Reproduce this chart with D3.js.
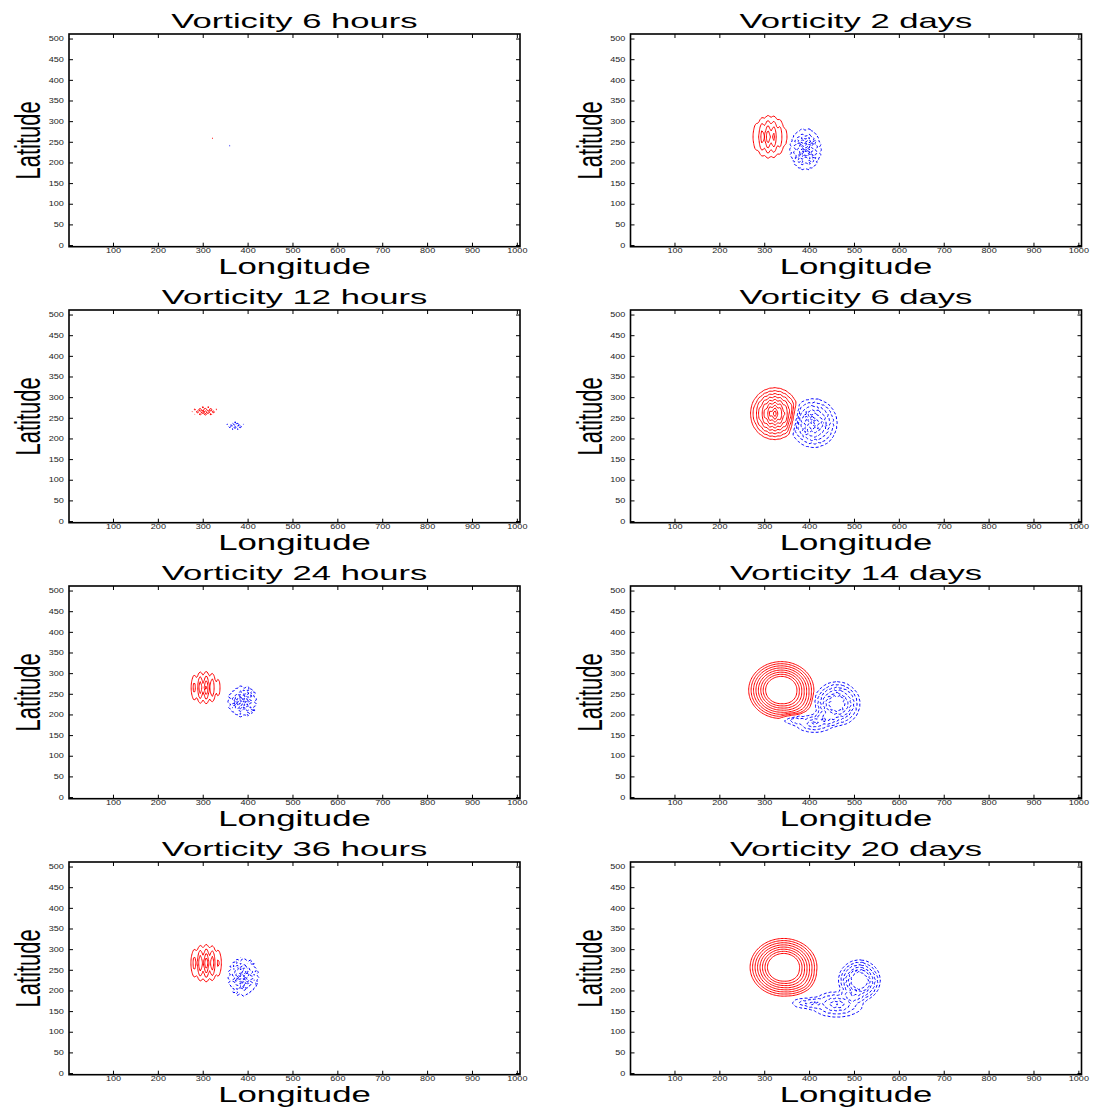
<!DOCTYPE html>
<html>
<head>
<meta charset="utf-8">
<script src="https://cdn.jsdelivr.net/npm/d3@7"></script>
<style>
  body { margin: 0; background: #fff; }
  text { font-family: "Liberation Sans", Arial, sans-serif; }
</style>
</head>
<body>
<svg id="fig" width="1095" height="1120"></svg>
<script>
// panel titles, row by row (left, right)
var titles = ["Vorticity 6 hours", "Vorticity 2 days",
              "Vorticity 12 hours", "Vorticity 6 days",
              "Vorticity 24 hours", "Vorticity 14 days",
              "Vorticity 36 hours", "Vorticity 20 days"];
var xTicks = [100, 200, 300, 400, 500, 600, 700, 800, 900, 1000];
var yTicks = [0, 50, 100, 150, 200, 250, 300, 350, 400, 450, 500];
var levels = [1, 2, 3, 4, 5, 6, 7, 8, 9, 10];

// vortex blobs: [lon, lat, spreadLon, spreadLat, peak, flatCore]
var redVortices = [
  [[321, 258, 9, 5, 1.2, 0], [335, 254, 9, 5, 1.3, 0]],
  [[312, 262, 48, 64, 4.6, 0]],
  [[305, 266, 50, 20, 1.3, 0]],
  [[323, 260, 60, 70, 9.5, 0]],
  [[304, 265, 46, 50, 3.6, 0]],
  [[338, 259, 78, 74, 8.4, 0.42], [388, 214, 50, 42, 1.1, 0]],
  [[307, 266, 48, 56, 4.2, 0]],
  [[343, 256, 80, 75, 8.4, 0.42], [392, 210, 50, 42, 1.1, 0]]
];
var blueVortices = [
  [[360, 241, 8, 5, 1.2, 0]],
  [[392, 232, 44, 62, 4.6, 0]],
  [[372, 231, 32, 16, 1.4, 0]],
  [[410, 237, 60, 68, 7.5, 0]],
  [[388, 232, 44, 50, 3.4, 0]],
  [[462, 226, 58, 60, 6.5, 0.25], [412, 180, 55, 30, 4.5, 0], [362, 188, 30, 18, 2.5, 0]],
  [[390, 232, 44, 60, 3.8, 0]],
  [[512, 224, 52, 56, 6.5, 0.3], [462, 166, 72, 38, 5, 0], [392, 170, 42, 20, 3, 0]]
];
// grid-scale noise seen in the early fields: [strength, wavelengthLon, wavelengthLat]
var rippleRed = [[0, 1, 0], [0.15, 14, 0], [1, 12, 12], [0.05, 12, 0],
                 [0.3, 14, 0], [0, 1, 0], [0.25, 14, 0], [0, 1, 0]];
var rippleBlue = [[0, 1, 0], [0.25, 16, 14], [1, 12, 12], [0.1, 14, 14],
                  [0.4, 16, 14], [0.08, 14, 14], [0.35, 16, 14], [0.08, 14, 14]];

var svg = d3.select("#fig");
var colLeft = [69, 630.5];
var rowTop = [34, 310, 586, 862];
var pw = 451, ph = 212.7;

// grid the field is sampled on
var g0 = [200, 80], gStep = 3;
var gn = Math.round((650 - g0[0]) / gStep), gm = Math.round((420 - g0[1]) / gStep);

function blobSum(list, lon, lat) {
  var v = 0;
  list.forEach(function(c) {
    var dx = (lon - c[0]) / c[2], dy = (lat - c[1]) / c[3];
    var r = Math.sqrt(dx * dx + dy * dy);
    v += c[4] * Math.max(0, Math.min(1, (1 - r) / (1 - c[5])));
  });
  return v;
}

function rippleAt(rp, lon, lat) {
  if (rp[0] == 0) return 1;
  var w = Math.cos(2 * Math.PI * lon / rp[1]);
  if (rp[2] > 0) w = w * Math.cos(2 * Math.PI * lat / rp[2]);
  return Math.max(0, 1 + rp[0] * w);
}

function drawPanel(k) {
  var L = colLeft[k % 2], T = rowTop[Math.floor(k / 2)];
  var x = d3.scaleLinear().domain([2, 1007]).range([L, L + pw]);
  var y = d3.scaleLinear().domain([-4, 511]).range([T + ph, T]);
  var g = svg.append("g");

  // field values
  var pos = new Array(gn * gm), neg = new Array(gn * gm);
  for (var j = 0; j < gm; j++) {
    for (var i = 0; i < gn; i++) {
      var lon = g0[0] + (i + 0.5) * gStep, lat = g0[1] + (j + 0.5) * gStep;
      var v = blobSum(redVortices[k], lon, lat) * rippleAt(rippleRed[k], lon, lat)
            - blobSum(blueVortices[k], lon, lat) * rippleAt(rippleBlue[k], lon, lat);
      pos[j * gn + i] = v;
      neg[j * gn + i] = -v;
    }
  }
  var proj = d3.geoTransform({
    point: function(px, py) {
      this.stream.point(x(g0[0] + px * gStep), y(g0[1] + py * gStep));
    }
  });
  var path = d3.geoPath(proj);
  var cont = d3.contours().size([gn, gm]).thresholds(levels);

  g.selectAll("path.pos").data(cont(pos)).enter().append("path")
    .attr("class", "pos")
    .attr("d", path)
    .attr("fill", "none")
    .attr("stroke", "#ff0000")
    .attr("stroke-width", 1);
  g.selectAll("path.neg").data(cont(neg)).enter().append("path")
    .attr("class", "neg")
    .attr("d", path)
    .attr("fill", "none")
    .attr("stroke", "#0000ff")
    .attr("stroke-width", 1)
    .attr("stroke-dasharray", "3,2");

  // axes, ticks pointing inwards on all four sides
  var bottom = g.append("g").attr("transform", "translate(0," + (T + ph) + ")")
    .call(d3.axisBottom(x).tickValues(xTicks).tickSize(-4).tickPadding(1).tickFormat(d3.format("d")));
  var left = g.append("g").attr("transform", "translate(" + L + ",0)")
    .call(d3.axisLeft(y).tickValues(yTicks).tickSize(-4).tickPadding(4).tickFormat(d3.format("d")));
  g.append("g").attr("transform", "translate(0," + T + ")")
    .call(d3.axisTop(x).tickValues(xTicks).tickSize(-4).tickFormat(""));
  g.append("g").attr("transform", "translate(" + (L + pw) + ",0)")
    .call(d3.axisRight(y).tickValues(yTicks).tickSize(-4).tickFormat(""));
  g.selectAll(".domain").remove();
  g.selectAll(".tick line").attr("stroke", "#000");
  [bottom, left].forEach(function(a) {
    a.selectAll("text")
      .attr("font-family", "Liberation Sans, Arial, sans-serif")
      .attr("font-size", 7)
      .attr("fill", "#222")
      .attr("transform", "scale(1.3,1)");
  });

  g.append("rect")
    .attr("x", L).attr("y", T).attr("width", pw).attr("height", ph)
    .attr("fill", "none").attr("stroke", "#000").attr("stroke-width", 1.6);

  // labels, stretched wide like the original
  g.append("text")
    .attr("transform", "translate(" + (L + pw / 2) + "," + (T - 6) + ") scale(1.65,1)")
    .attr("text-anchor", "middle")
    .attr("font-size", 21)
    .text(titles[k]);
  g.append("text")
    .attr("transform", "translate(" + (L + pw / 2) + "," + (T + ph + 27.5) + ") scale(1.58,1)")
    .attr("text-anchor", "middle")
    .attr("font-size", 22)
    .text("Longitude");
  g.append("text")
    .attr("transform", "translate(" + (L - 29) + "," + (T + ph / 2) + ") scale(1.6,1) rotate(-90)")
    .attr("text-anchor", "middle")
    .attr("font-size", 22)
    .text("Latitude");
}

for (var k = 0; k < titles.length; k++) drawPanel(k);
</script>
</body>
</html>
